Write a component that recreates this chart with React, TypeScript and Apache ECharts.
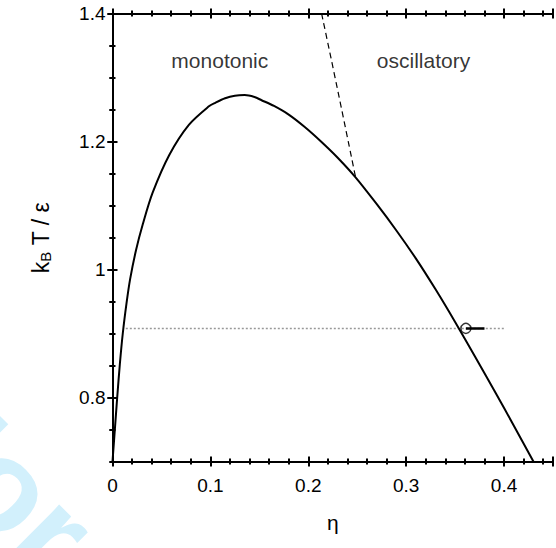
import React, { useEffect, useRef } from 'react';
import * as echarts from 'echarts';

// ---- axis ranges and ticks ----
const X_MIN = 0;
const X_MAX = 0.45;
const Y_MIN = 0.7;
const Y_MAX = 1.4;
const xMajorStep = 0.1;
const xMinorStep = 0.02;
const yMinorStep = 0.05;
const yMajorTicks = [0.8, 1, 1.2, 1.4];

// ---- data (eta, kT/eps) ----
const boundaryCurve: [number, number][] = [
  [0, 0.7],
  [0.0025, 0.752],
  [0.0048, 0.8],
  [0.0075, 0.852],
  [0.0105, 0.9],
  [0.0143, 0.947],
  [0.018, 0.985],
  [0.024, 1.03],
  [0.031, 1.071],
  [0.041, 1.12],
  [0.058, 1.179],
  [0.078, 1.226],
  [0.0985, 1.255],
  [0.105, 1.2605],
  [0.115, 1.2675],
  [0.125, 1.2715],
  [0.135, 1.2725],
  [0.145, 1.2695],
  [0.1523, 1.2645],
  [0.165, 1.2555],
  [0.18, 1.242],
  [0.1961, 1.223],
  [0.213, 1.2],
  [0.2298, 1.175],
  [0.2483, 1.144],
  [0.27, 1.102],
  [0.29, 1.061],
  [0.31, 1.017],
  [0.33, 0.969],
  [0.35, 0.918],
  [0.37, 0.865],
  [0.39, 0.811],
  [0.41, 0.756],
  [0.43, 0.7],
];
const crossoverLine: [number, number][] = [
  [0.2136, 1.4],
  [0.228, 1.2953],
  [0.2483, 1.1442],
];
const isotherm: [number, number][] = [
  [0.0136, 0.908],
  [0.4, 0.908],
];
const stateSegment: [number, number][] = [
  [0.361, 0.908],
  [0.38, 0.908],
];
const statePoint: [number, number][] = [[0.361, 0.908]];
const regionLabels: { name: string; value: [number, number] }[] = [
  { name: 'monotonic', value: [0.1096, 1.3266] },
  { name: 'oscillatory', value: [0.3177, 1.3266] },
];

const FONT = "'Liberation Sans', Arial, Helvetica, sans-serif";
const LABEL_SIZE = 19;

function xAxis(position: 'bottom' | 'top', interval: number, inside: boolean, length: number, main: boolean) {
  return {
    type: 'value',
    position,
    min: X_MIN,
    max: X_MAX,
    interval,
    axisLine: { show: main, lineStyle: { color: '#000', width: 2 } },
    axisTick: { show: true, inside, length, lineStyle: { color: '#000', width: 2 } },
    axisLabel: main && position === 'bottom'
      ? {
          show: true,
          margin: 14,
          color: '#000',
          fontSize: LABEL_SIZE,
          fontFamily: FONT,
          formatter: (v: number) => (Math.abs(v * 10 - Math.round(v * 10)) < 1e-6 ? String(Math.round(v * 10) / 10) : ''),
        }
      : { show: false },
    splitLine: { show: false },
    name: main && position === 'bottom' ? 'η' : '',
    nameLocation: 'middle',
    nameGap: 50,
    nameTextStyle: { color: '#000', fontSize: 21, fontFamily: FONT },
  };
}

function yAxis(position: 'left' | 'right', major: boolean, inside: boolean, length: number, main: boolean) {
  const tick: any = { show: true, inside, length, lineStyle: { color: '#000', width: 2 } };
  if (major) tick.customValues = yMajorTicks;
  return {
    type: 'value',
    position,
    min: Y_MIN,
    max: Y_MAX,
    interval: yMinorStep,
    axisLine: { show: main, lineStyle: { color: '#000', width: 2 } },
    axisTick: tick,
    axisLabel: main && position === 'left'
      ? {
          show: true,
          margin: 7,
          color: '#000',
          fontSize: LABEL_SIZE,
          fontFamily: FONT,
          customValues: yMajorTicks,
        }
      : { show: false },
    splitLine: { show: false },
    name: main && position === 'left' ? '{a|k}{b|B}{a| T / ε}' : '',
    nameLocation: 'middle',
    nameGap: 60,
    nameTextStyle: {
      color: '#000',
      fontFamily: FONT,
      fontSize: 23,
      rich: {
        a: { fontSize: 23, fontFamily: FONT, color: '#000' },
        b: { fontSize: 15, fontFamily: FONT, color: '#000', verticalAlign: 'bottom', padding: [9, 0, 0, 0] },
      },
    },
  };
}

export default function App() {
  const ref = useRef<HTMLDivElement>(null);
  useEffect(() => {
    if (!ref.current) return;
    const chart = echarts.init(ref.current, undefined, { renderer: 'svg' });
    chart.setOption({
      animation: false,
      backgroundColor: '#fff',
      grid: { left: 112.5, top: 13.5, width: 445.5, height: 448, containLabel: false },
      xAxis: [
        xAxis('bottom', xMajorStep, false, 5, true),
        xAxis('bottom', xMajorStep, true, 5, false),
        xAxis('bottom', xMinorStep, false, 3, false),
        xAxis('bottom', xMinorStep, true, 3, false),
        xAxis('top', xMajorStep, false, 5, true),
        xAxis('top', xMajorStep, true, 5, false),
        xAxis('top', xMinorStep, false, 3, false),
        xAxis('top', xMinorStep, true, 3, false),
      ],
      yAxis: [
        yAxis('left', true, false, 5, true),
        yAxis('left', true, true, 5, false),
        yAxis('left', false, false, 3, false),
        yAxis('left', false, true, 3, false),
        yAxis('right', true, true, 5, true),
        yAxis('right', false, true, 3, false),
      ],
      graphic: [
        {
          type: 'text',
          x: -76,
          y: 403,
          rotation: -Math.PI / 4,
          z: -10,
          silent: true,
          style: {
            text: 'For Review Only',
            fill: '#d2f0fc',
            font: `bold 130px ${FONT}`,
            textAlign: 'left',
            textVerticalAlign: 'middle',
          },
        },
      ],
      series: [
        {
          type: 'line',
          data: isotherm,
          symbol: 'none',
          lineStyle: { color: '#999', width: 1.5, type: [2, 2] },
          z: 1,
        },
        {
          type: 'line',
          data: boundaryCurve,
          symbol: 'none',
          smooth: 0.3,
          lineStyle: { color: '#000', width: 2 },
          z: 3,
        },
        {
          type: 'line',
          data: crossoverLine,
          symbol: 'none',
          smooth: true,
          lineStyle: { color: '#000', width: 1.2, type: [6, 4] },
          z: 2,
        },
        {
          type: 'line',
          data: stateSegment,
          symbol: 'none',
          lineStyle: { color: '#000', width: 2.5 },
          z: 4,
        },
        {
          type: 'scatter',
          data: statePoint,
          symbol: 'circle',
          symbolSize: 10,
          itemStyle: { color: 'rgba(255,255,255,0)', borderColor: '#000', borderWidth: 1.5 },
          z: 5,
        },
        {
          type: 'scatter',
          data: regionLabels,
          symbolSize: 0,
          label: {
            show: true,
            position: 'inside',
            formatter: '{b}',
            color: '#000',
            fontSize: 21,
            fontFamily: FONT,
          },
          z: 6,
        },
      ],
    });
    return () => chart.dispose();
  }, []);
  return <div ref={ref} style={{ position: 'fixed', left: 0, top: 0, width: 556, height: 548 }} />;
}
